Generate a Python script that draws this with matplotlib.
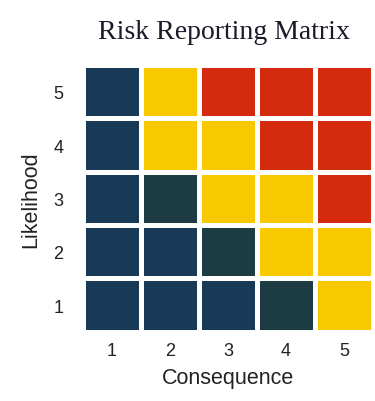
import matplotlib.pyplot as plt
import numpy as np
from matplotlib.colors import ListedColormap

# Risk levels per cell (rows = likelihood 1..5, cols = consequence 1..5)
# 0 = navy (low), 1 = dark teal (low-medium), 2 = yellow (medium), 3 = red (high)
consequence = [1, 2, 3, 4, 5]
likelihood = [1, 2, 3, 4, 5]
levels = [
    [0, 0, 0, 1, 2],  # likelihood 1
    [0, 0, 1, 2, 2],  # likelihood 2
    [0, 1, 2, 2, 3],  # likelihood 3
    [0, 2, 2, 3, 3],  # likelihood 4
    [0, 2, 3, 3, 3],  # likelihood 5
]

cmap = ListedColormap(['#183a57', '#1c3b42', '#f8c800', '#d42a0e'])

fig = plt.figure(figsize=(3.75, 4.02), dpi=100)
ax = fig.add_axes([0.221, 0.172, 0.774, 0.664])

x_edges = np.arange(len(consequence) + 1) + 0.5
y_edges = np.arange(len(likelihood) + 1) + 0.5
ax.pcolormesh(x_edges, y_edges, np.array(levels), cmap=cmap, vmin=-0.5, vmax=3.5,
              edgecolors='white', linewidth=2.2)

ax.set_xlim(0.5, 5.5)
ax.set_ylim(0.5, 5.5)
ax.set_xticks(consequence)
ax.set_yticks(likelihood)
ax.tick_params(axis='x', length=0, labelsize=13, pad=7)
ax.tick_params(axis='y', length=0, labelsize=13, pad=14)
for lab in ax.get_xticklabels() + ax.get_yticklabels():
    lab.set_family('Liberation Sans')
    lab.set_color('#222222')
for s in ax.spines.values():
    s.set_visible(False)

ax.set_xlabel('Consequence', fontsize=15.5, family='Liberation Sans', color='#222222', labelpad=6)
ax.set_ylabel('Likelihood', fontsize=15.5, family='Liberation Sans', color='#222222', labelpad=9)

fig.text(0.597, 0.918, 'Risk Reporting Matrix', fontsize=20, family='Liberation Serif',
         color='#1a1a2a', ha='center', va='center')

fig.savefig('out.png', dpi=100)
